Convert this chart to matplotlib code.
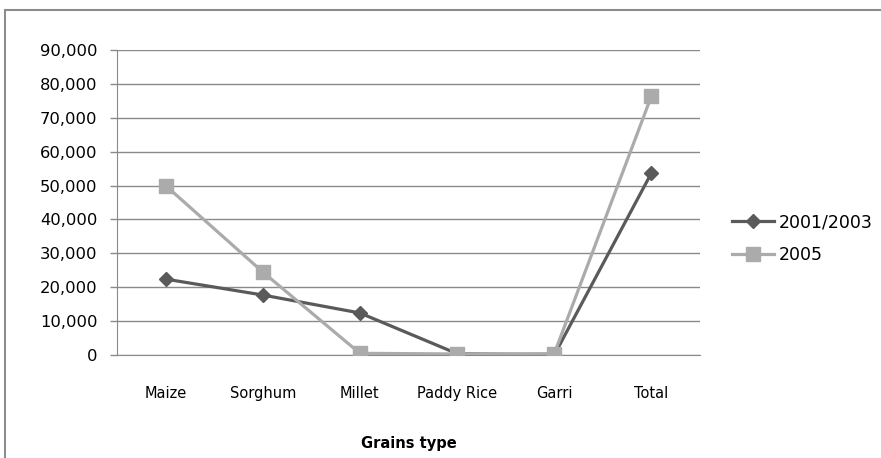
import matplotlib
matplotlib.use("Agg")
import matplotlib.pyplot as plt
from matplotlib.patches import Rectangle
from matplotlib.ticker import FuncFormatter

grains = ["Maize", "Sorghum", "Millet", "Paddy Rice", "Garri", "Total"]
y2001_2003 = [22400, 17700, 12400, 400, 0, 53700]
y2005 = [50000, 24500, 500, 300, 400, 76400]

dark = "#5a5a5a"
light = "#ababab"
grid_col = "#8a8a8a"
narrow = ["Liberation Sans Narrow", "DejaVu Sans"]

fig = plt.figure(figsize=(8.81, 4.58), dpi=100)
ax = fig.add_axes([117 / 881, 103 / 458, 583 / 881, 305 / 458])

x = list(range(len(grains)))
ax.plot(x, y2001_2003, color=dark, lw=2.3, marker="D", markersize=7.5,
        label="2001/2003", zorder=3)
ax.plot(x, y2005, color=light, lw=2.3, marker="s", markersize=10,
        label="2005", zorder=3)

ax.set_xlim(-0.5, len(grains) - 0.5)
ax.set_ylim(0, 90000)
ax.set_yticks(range(0, 90001, 10000))
ax.yaxis.set_major_formatter(FuncFormatter(lambda v, p: f"{int(v):,}"))
ax.set_xticks(x)
ax.set_xticklabels(grains, family=narrow, fontsize=10.5)
ax.tick_params(axis="x", length=0, pad=22)
ax.tick_params(axis="y", length=5, width=1, color=grid_col, pad=9, labelsize=11.8)

ax.grid(axis="y", color=grid_col, lw=1)
ax.set_axisbelow(True)
for s in ["top", "right"]:
    ax.spines[s].set_visible(False)
ax.spines["left"].set_color(grid_col)
ax.spines["bottom"].set_color(grid_col)

ax.set_xlabel("Grains type", family=narrow, fontsize=10.5, fontweight="bold")
ax.xaxis.set_label_coords(0.5, -0.265)

ax.legend(loc="center left", bbox_to_anchor=(732 / 881, 1 - 238.5 / 458),
          bbox_transform=fig.transFigure, frameon=False, fontsize=12.5,
          handlelength=2.4, handletextpad=0.3, labelspacing=0.85,
          borderpad=0, borderaxespad=0)

# outer chart border (cut off at the right and bottom)
fig.add_artist(Rectangle((5 / 881, -0.1), 1.2, 1.1 - 10 / 458,
                         transform=fig.transFigure, fill=False,
                         edgecolor="#8c8c8c", lw=1.5, clip_on=False))

fig.savefig("out.png", dpi=100)
